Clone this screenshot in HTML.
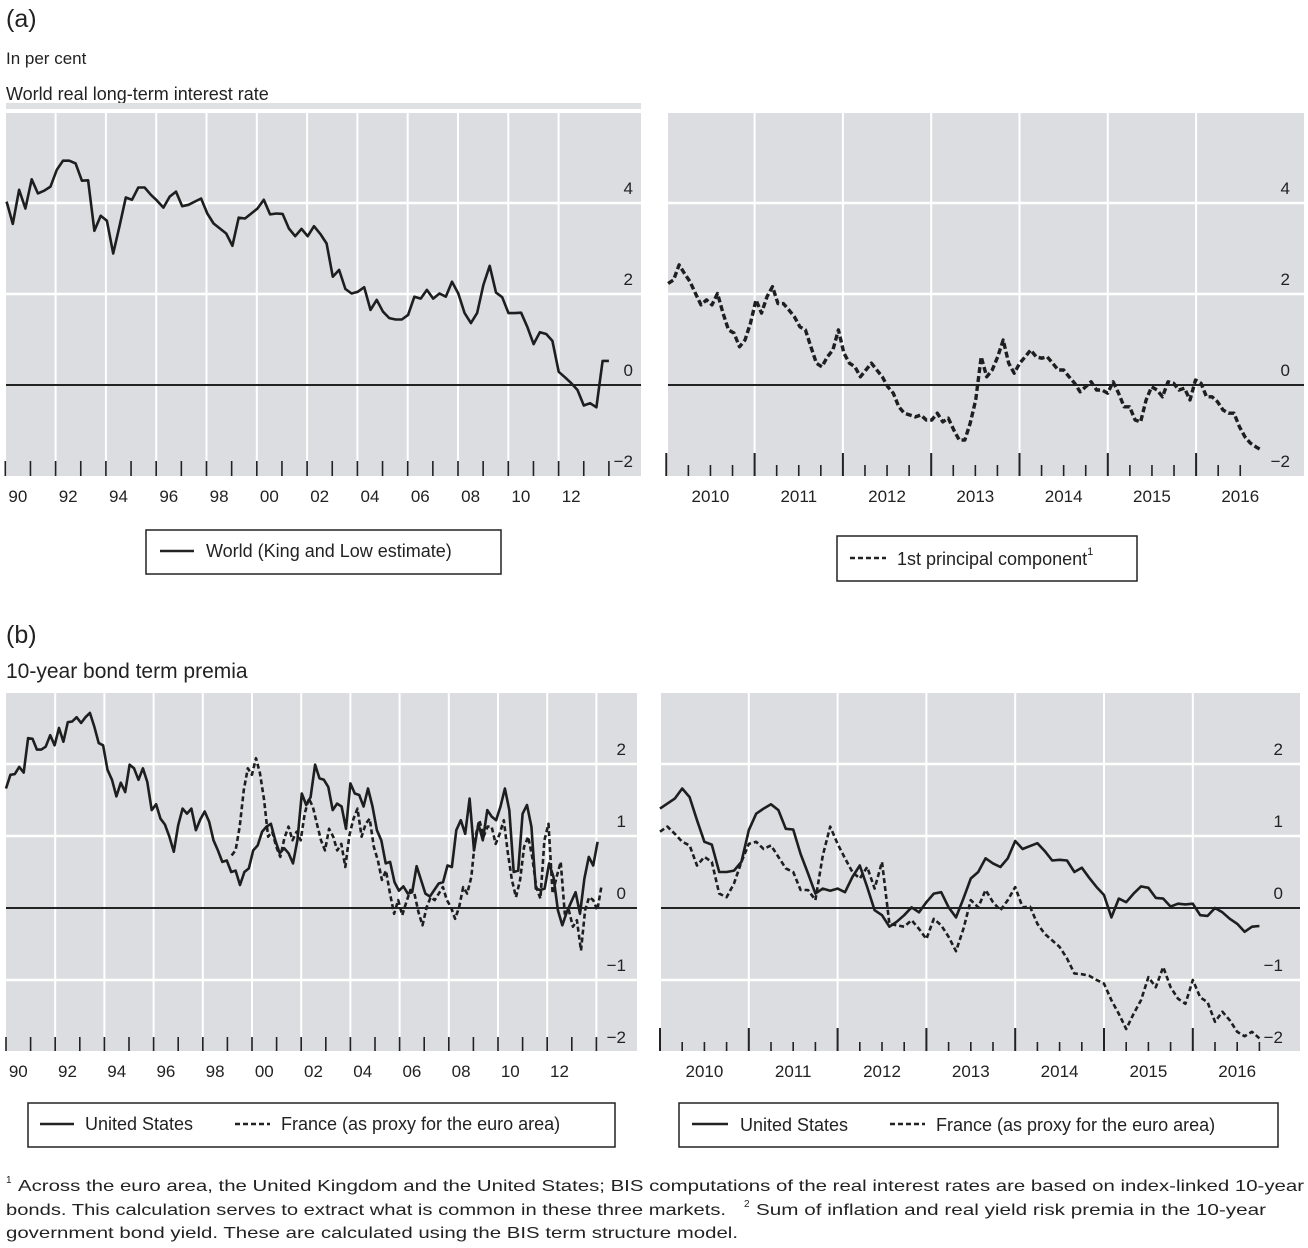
<!DOCTYPE html>
<html><head><meta charset="utf-8"><style>
html,body{margin:0;padding:0;background:#fff}
svg{display:block;font-family:"Liberation Sans",sans-serif}
</style></head><body>
<svg id="root" width="1308" height="1248" viewBox="0 0 1308 1248" xmlns="http://www.w3.org/2000/svg">
<text x="6" y="27" font-size="25" fill="#222">(a)</text>
<text x="6" y="64" font-size="17" fill="#222">In per cent</text>
<text x="6" y="100" font-size="18" fill="#222">World real long-term interest rate</text>
<rect x="6" y="103" width="635" height="6" fill="#dfe0e2"/>
<text x="6" y="643" font-size="25" fill="#222">(b)</text>
<text x="6" y="678" font-size="21" fill="#222">10-year bond term premia</text>
<g id="charts"></g>
<g>
<rect x="146" y="530" width="355" height="44" fill="#fff" stroke="#222" stroke-width="1.5"/>
<line x1="160" y1="551" x2="194" y2="551" stroke="#222" stroke-width="2.5"/>
<text x="206" y="557" font-size="18" fill="#222">World (King and Low estimate)</text>
</g>
<g>
<rect x="837" y="536" width="300" height="45" fill="#fff" stroke="#222" stroke-width="1.5"/>
<line x1="850" y1="558" x2="886" y2="558" stroke="#222" stroke-width="2.5" stroke-dasharray="5,3"/>
<text x="897" y="565" font-size="18" fill="#222">1st principal component<tspan font-size="11" dy="-10">1</tspan></text>
</g>
<g>
<rect x="28" y="1103" width="587" height="44" fill="#fff" stroke="#222" stroke-width="1.5"/>
<line x1="40" y1="1124" x2="74" y2="1124" stroke="#222" stroke-width="2.5"/>
<text x="85" y="1130" font-size="18" fill="#222">United States</text>
<line x1="235" y1="1124" x2="270" y2="1124" stroke="#222" stroke-width="2.5" stroke-dasharray="5,3"/>
<text x="281" y="1130" font-size="18" fill="#222">France (as proxy for the euro area)</text>
</g>
<g>
<rect x="679" y="1103" width="599" height="44" fill="#fff" stroke="#222" stroke-width="1.5"/>
<line x1="692" y1="1124" x2="728" y2="1124" stroke="#222" stroke-width="2.5"/>
<text x="740" y="1131" font-size="18" fill="#222">United States</text>
<line x1="890" y1="1124" x2="925" y2="1124" stroke="#222" stroke-width="2.5" stroke-dasharray="5,3"/>
<text x="936" y="1131" font-size="18" fill="#222">France (as proxy for the euro area)</text>
</g>
<g font-size="16" fill="#222">
<text x="6" y="1183" font-size="10">1</text>
<text x="18" y="1191" textLength="1286" lengthAdjust="spacingAndGlyphs">Across the euro area, the United Kingdom and the United States; BIS computations of the real interest rates are based on index-linked 10-year</text>
<text x="6" y="1215" textLength="720" lengthAdjust="spacingAndGlyphs">bonds. This calculation serves to extract what is common in these three markets.</text>
<text x="744" y="1207" font-size="10">2</text>
<text x="756" y="1215" textLength="510" lengthAdjust="spacingAndGlyphs">Sum of inflation and real yield risk premia in the 10-year</text>
<text x="6" y="1238" textLength="732" lengthAdjust="spacingAndGlyphs">government bond yield. These are calculated using the BIS term structure model.</text>
</g>
</svg>
<script>
const worldValues = [4.03,3.54,4.29,3.88,4.52,4.21,4.27,4.36,4.73,4.93,4.93,4.87,4.49,4.5,3.39,3.72,3.61,2.89,3.49,4.12,4.07,4.34,4.34,4.18,4.05,3.9,4.14,4.25,3.93,3.96,4.03,4.1,3.77,3.55,3.44,3.33,3.06,3.68,3.66,3.77,3.88,4.07,3.75,3.77,3.76,3.44,3.27,3.43,3.27,3.49,3.32,3.11,2.38,2.53,2.11,2.01,2.05,2.15,1.65,1.87,1.61,1.47,1.44,1.44,1.54,1.94,1.9,2.09,1.9,2.01,1.94,2.27,2.01,1.58,1.36,1.58,2.2,2.62,2.03,1.93,1.58,1.58,1.59,1.28,0.9,1.16,1.12,0.97,0.29,0.17,0.04,-0.11,-0.45,-0.4,-0.49,0.53,0.53];
const worldRange = [1990.05, 2014.0];
const pcValues = [2.23,2.31,2.64,2.45,2.27,2.01,1.76,1.87,1.76,2.01,1.58,1.21,1.14,0.84,0.99,1.36,1.87,1.58,1.94,2.16,1.79,1.79,1.65,1.5,1.28,1.21,0.84,0.48,0.4,0.62,0.77,1.21,0.7,0.48,0.4,0.18,0.33,0.48,0.33,0.18,-0.04,-0.18,-0.48,-0.62,-0.66,-0.7,-0.66,-0.77,-0.77,-0.62,-0.81,-0.73,-0.99,-1.21,-1.21,-0.84,-0.33,0.62,0.18,0.33,0.62,0.99,0.48,0.26,0.48,0.62,0.77,0.62,0.59,0.62,0.48,0.33,0.33,0.18,0.04,-0.15,-0.04,0.07,-0.11,-0.11,-0.18,0.07,-0.18,-0.48,-0.48,-0.77,-0.81,-0.33,-0.04,-0.11,-0.26,0.07,0.04,-0.11,-0.07,-0.33,0.11,0.04,-0.26,-0.26,-0.37,-0.55,-0.62,-0.62,-0.92,-1.14,-1.28,-1.36,-1.43];
const pcRange = [2010.02, 2016.74];
const usLongValues = [1.66,1.85,1.86,1.96,1.88,2.36,2.35,2.2,2.2,2.24,2.4,2.26,2.5,2.31,2.58,2.59,2.65,2.57,2.65,2.71,2.52,2.29,2.26,1.92,1.78,1.55,1.74,1.61,1.99,1.94,1.78,1.94,1.75,1.36,1.44,1.24,1.16,0.99,0.78,1.15,1.38,1.31,1.38,1.08,1.23,1.34,1.2,0.94,0.8,0.64,0.66,0.5,0.52,0.32,0.5,0.55,0.8,0.87,1.06,1.13,1.17,0.94,0.76,0.83,0.76,0.62,0.94,1.59,1.43,1.54,1.99,1.8,1.78,1.68,1.36,1.45,1.41,1.1,1.73,1.59,1.57,1.41,1.66,1.41,1.08,0.94,0.62,0.64,0.36,0.24,0.3,0.2,0.22,0.58,0.39,0.2,0.16,0.25,0.34,0.36,0.59,0.57,1.08,1.22,1.03,1.52,0.8,1.17,0.94,1.36,1.27,1.22,1.41,1.66,1.36,0.5,0.52,1.31,1.43,1.13,0.27,0.25,0.27,0.62,0.43,-0.03,-0.24,-0.06,0.08,0.22,-0.08,0.41,0.71,0.59,0.92];
const usLongRange = [1990.0, 2014.05];
const frLongValues = [0.73,0.8,1.13,1.64,1.94,1.85,2.08,1.87,1.5,0.99,1.06,0.85,0.71,0.97,1.13,0.94,1.06,0.94,1.31,1.52,1.41,1.17,0.94,0.8,1.1,0.99,0.8,0.89,0.57,1.01,1.24,1.38,0.99,1.17,1.24,0.85,0.66,0.39,0.52,0.2,-0.08,0.11,-0.1,0.08,0.25,0.2,-0.06,-0.24,0.01,0.15,0.11,0.2,0.29,0.11,0.01,-0.15,0.01,0.29,0.2,0.43,0.99,1.22,0.99,1.13,1.13,0.89,1.03,1.22,0.76,0.39,0.15,0.39,0.85,0.99,0.71,0.29,0.13,0.94,1.17,0.2,0.43,0.64,-0.08,-0.03,-0.26,-0.17,-0.59,-0.03,0.15,0.11,-0.03,0.29];
const frLongRange = [1999.17, 2014.2];
const usShortValues = [1.38,1.45,1.52,1.66,1.54,1.22,0.92,0.88,0.5,0.5,0.52,0.64,1.08,1.31,1.38,1.44,1.36,1.1,1.09,0.75,0.48,0.2,0.27,0.24,0.27,0.22,0.43,0.59,0.29,-0.03,-0.1,-0.26,-0.19,-0.1,0.01,-0.06,0.08,0.2,0.22,0.01,-0.13,0.13,0.41,0.5,0.69,0.62,0.57,0.69,0.93,0.82,0.86,0.9,0.79,0.66,0.67,0.66,0.5,0.56,0.42,0.29,0.18,-0.13,0.13,0.08,0.2,0.3,0.28,0.14,0.13,0.02,0.06,0.05,0.06,-0.1,-0.11,0.0,-0.06,-0.15,-0.22,-0.33,-0.26,-0.25];
const usShortRange = [2010.0, 2016.75];
const frShortValues = [1.06,1.13,1.03,0.92,0.87,0.59,0.71,0.64,0.2,0.15,0.34,0.64,0.89,0.92,0.82,0.87,0.71,0.55,0.5,0.25,0.25,0.11,0.73,1.13,0.89,0.69,0.5,0.41,0.57,0.27,0.64,-0.22,-0.24,-0.26,-0.17,-0.29,-0.43,-0.15,-0.24,-0.4,-0.6,-0.29,0.11,0.01,0.25,0.08,-0.03,0.11,0.29,0.01,0.02,-0.22,-0.36,-0.45,-0.54,-0.7,-0.91,-0.92,-0.94,-1.0,-1.05,-1.28,-1.47,-1.68,-1.47,-1.28,-0.96,-1.1,-0.82,-1.1,-1.26,-1.33,-1.0,-1.24,-1.31,-1.58,-1.44,-1.56,-1.72,-1.78,-1.72,-1.81];
const frShortRange = [2010.0, 2016.75];
const longYearLabels = ["90","92","94","96","98","00","02","04","06","08","10","12"];
const shortYearLabels = ["2010","2011","2012","2013","2014","2015","2016"];
const ticksA = [-2,0,2,4];
const ticksB = [-2,-1,0,1,2];

const NS = "http://www.w3.org/2000/svg";
const root = document.getElementById('charts');
function mk(tag, attrs, parent){const e=document.createElementNS(NS,tag);for(const k in attrs)e.setAttribute(k,attrs[k]);(parent||root).appendChild(e);return e;}

function panel(p){
  const g = mk('g',{});
  
  
  const xS = y => p.x0 + (y - p.yr0) * p.pxYear;
  const yS = v => p.zeroY - v * p.pxUnit;
  const bg = mk('rect',{x:p.left,y:p.top,width:p.right-p.left,height:p.bottom-p.top,fill:'#dcdde0'},g);
  
  
  for(let v=p.vmin+p.vStep; v<p.vmax; v+=p.vStep){
    if(v===0) continue;
    mk('line',{x1:p.left,x2:p.right,y1:yS(v),y2:yS(v),stroke:'#fff','stroke-width':2.5},g);
  }
  for(let y=p.gridStart; y<=p.gridEnd+0.001; y+=p.gridStep){
    mk('line',{x1:xS(y),x2:xS(y),y1:p.top,y2:p.tickMajorTop,stroke:'#fff','stroke-width':2},g);
  }
  const nT = Math.round((p.tickEnd-p.yr0)/p.tickStep);
  for(let i=0; i<=nT; i++){
    const y = p.yr0 + i*p.tickStep;
    const major = p.majorEvery>0 && (i % p.majorEvery === 0);
    mk('line',{x1:xS(y),x2:xS(y),y1:major?p.tickMajorTop:p.tickTop,y2:p.bottom,stroke:'#222','stroke-width':major?2:1.6},g);
  }
  const z = mk('line',{x1:p.left,x2:p.right,y1:yS(0),y2:yS(0),stroke:'#222','stroke-width':2},g);
  
  
  p.yticks.forEach(v=>{
    const t = mk('text',{x:p.labelX,y:yS(v)-9,'font-size':17,fill:'#222','text-anchor':'end'},g);
    t.textContent = v<0 ? '\u2212'+Math.abs(v) : String(v);
    
    
  });
  p.xlabels.forEach((s,i)=>{
    const yr = p.labelStart + i*p.labelStep;
    const t = mk('text',{x:xS(yr + p.labelOffset),y:p.labelY,'font-size':17,fill:'#222','text-anchor':'middle'},g);
    t.textContent = s;
    
    
  });
  p.series.forEach(s=>{
    const n = s.values.length;
    const pts = s.values.map((v,i)=>{
      const yr = s.range[0] + (s.range[1]-s.range[0]) * i/(n-1);
      return xS(yr).toFixed(1)+','+yS(v).toFixed(1);
    }).join(' ');
    const pl = mk('polyline',{points:pts,fill:'none',stroke:'#1e1e1e','stroke-width':s.w||2.6,'stroke-linejoin':'round','stroke-dasharray':s.dash||'none'},g);
    
    
  });
}

panel({name:'chart-a-left',left:6,right:641,top:113,bottom:476,zeroY:385,pxUnit:45.5,vmin:-2,vmax:6,vStep:2,
  x0:5.3,yr0:1990,pxYear:25.15,gridStart:1992,gridEnd:2012,gridStep:2,
  tickTop:461,tickMajorTop:461,tickStep:1,tickEnd:2014,majorEvery:0,
  labelX:633,yticks:ticksA,xlabels:longYearLabels,labelStart:1990,labelStep:2,labelOffset:0.5,labelY:502,
  series:[{name:'world-line',values:worldValues,range:worldRange}]});

panel({name:'chart-a-right',left:668,right:1304,top:113,bottom:476,zeroY:385,pxUnit:45.5,vmin:-2,vmax:6,vStep:2,
  x0:666.3,yr0:2010,pxYear:88.3,gridStart:2011,gridEnd:2016,gridStep:1,
  tickTop:465,tickMajorTop:453,tickStep:0.25,tickEnd:2016.5,majorEvery:4,
  labelX:1290,yticks:ticksA,xlabels:shortYearLabels,labelStart:2010,labelStep:1,labelOffset:0.5,labelY:502,
  series:[{name:'principal-component-line',values:pcValues,range:pcRange,dash:'6,3',w:3.4}]});

panel({name:'chart-b-left',left:6,right:637,top:693,bottom:1051,zeroY:908,pxUnit:72,vmin:-2,vmax:3,vStep:1,
  x0:6,yr0:1990,pxYear:24.6,gridStart:1992,gridEnd:2014,gridStep:2,
  tickTop:1037,tickMajorTop:1037,tickStep:1,tickEnd:2014,majorEvery:0,
  labelX:626,yticks:ticksB,xlabels:longYearLabels,labelStart:1990,labelStep:2,labelOffset:0.5,labelY:1077,
  series:[{name:'us-line-long',values:usLongValues,range:usLongRange},
          {name:'france-line-long',values:frLongValues,range:frLongRange,dash:'5,3'}]});

panel({name:'chart-b-right',left:661,right:1300,top:693,bottom:1051,zeroY:908,pxUnit:72,vmin:-2,vmax:3,vStep:1,
  x0:660,yr0:2010,pxYear:88.8,gridStart:2011,gridEnd:2016,gridStep:1,
  tickTop:1042,tickMajorTop:1028,tickStep:0.25,tickEnd:2016.75,majorEvery:4,
  labelX:1283,yticks:ticksB,xlabels:shortYearLabels,labelStart:2010,labelStep:1,labelOffset:0.5,labelY:1077,
  series:[{name:'us-line-short',values:usShortValues,range:usShortRange},
          {name:'france-line-short',values:frShortValues,range:frShortRange,dash:'5,3'}]});
</script>
</body></html>
